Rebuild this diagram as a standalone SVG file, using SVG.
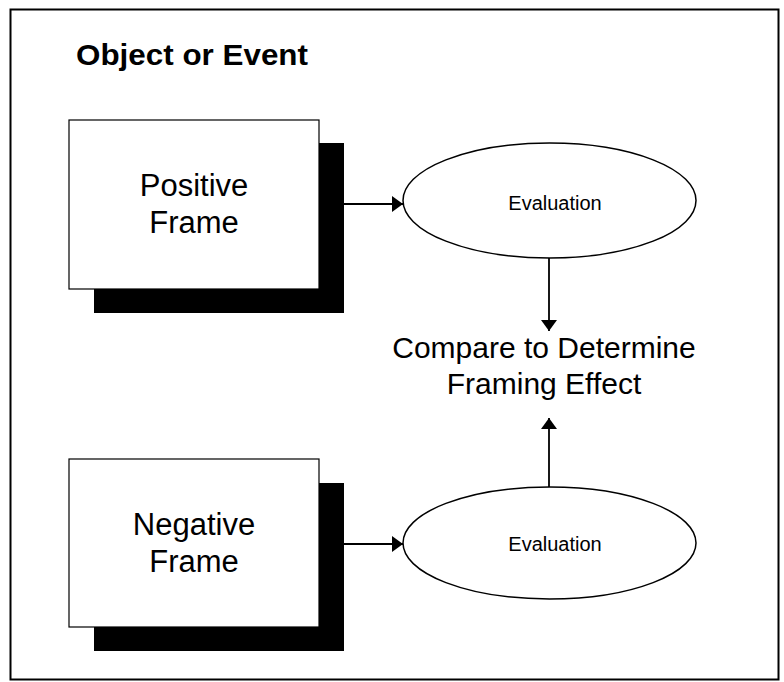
<svg xmlns="http://www.w3.org/2000/svg" width="784" height="682" viewBox="0 0 784 682">
  <style>
    .label { font-family: "Liberation Sans", Arial, Helvetica, sans-serif; fill: #000; text-anchor: middle; }
    .box { fill: #fff; stroke: #000; stroke-width: 1.2; }
    .shadow { fill: #000; }
    .oval { fill: #fff; stroke: #000; stroke-width: 1.5; }
    .wire { stroke: #000; stroke-width: 1.8; fill: none; }
  </style>
  <defs>
    <marker id="head" viewBox="0 0 11 16" refX="11" refY="8" markerWidth="11" markerHeight="16" markerUnits="userSpaceOnUse" orient="auto">
      <path d="M0,0 L11,8 L0,16 Z" fill="#000"/>
    </marker>
  </defs>

  <rect width="784" height="682" fill="#fff"/>

  <!-- outer frame -->
  <g id="frame">
    <rect x="10.5" y="9.5" width="768" height="670" fill="none" stroke="#000" stroke-width="2"/>
    <text class="label" x="76" y="65" style="text-anchor:start;font-weight:bold" font-size="30" textLength="232" lengthAdjust="spacingAndGlyphs">Object or Event</text>
  </g>

  <!-- connectors -->
  <g id="connectors">
    <line class="wire" x1="344" y1="204" x2="403" y2="204" marker-end="url(#head)"/>
    <line class="wire" x1="549" y1="258" x2="549" y2="331" marker-end="url(#head)"/>
    <line class="wire" x1="344" y1="544" x2="403" y2="544" marker-end="url(#head)"/>
    <line class="wire" x1="549" y1="487" x2="549" y2="418" marker-end="url(#head)"/>
  </g>

  <g id="positive-frame">
    <rect class="shadow" x="94" y="143" width="250" height="170"/>
    <rect class="box" x="69" y="120" width="250" height="169"/>
    <text class="label" x="194" y="196" font-size="31">Positive</text>
    <text class="label" x="194" y="233" font-size="31">Frame</text>
  </g>

  <g id="evaluation-positive">
    <ellipse class="oval" cx="549.5" cy="200.5" rx="146.5" ry="57.5"/>
    <text class="label" x="555" y="210" font-size="20">Evaluation</text>
  </g>

  <g id="compare">
    <text class="label" x="544" y="358" font-size="30">Compare to Determine</text>
    <text class="label" x="544" y="394" font-size="30">Framing Effect</text>
  </g>

  <g id="negative-frame">
    <rect class="shadow" x="94" y="483" width="250" height="168"/>
    <rect class="box" x="69" y="459" width="250" height="168"/>
    <text class="label" x="194" y="535" font-size="31">Negative</text>
    <text class="label" x="194" y="572" font-size="31">Frame</text>
  </g>

  <g id="evaluation-negative">
    <ellipse class="oval" cx="549.5" cy="543" rx="146.5" ry="56"/>
    <text class="label" x="555" y="551" font-size="20">Evaluation</text>
  </g>
</svg>
